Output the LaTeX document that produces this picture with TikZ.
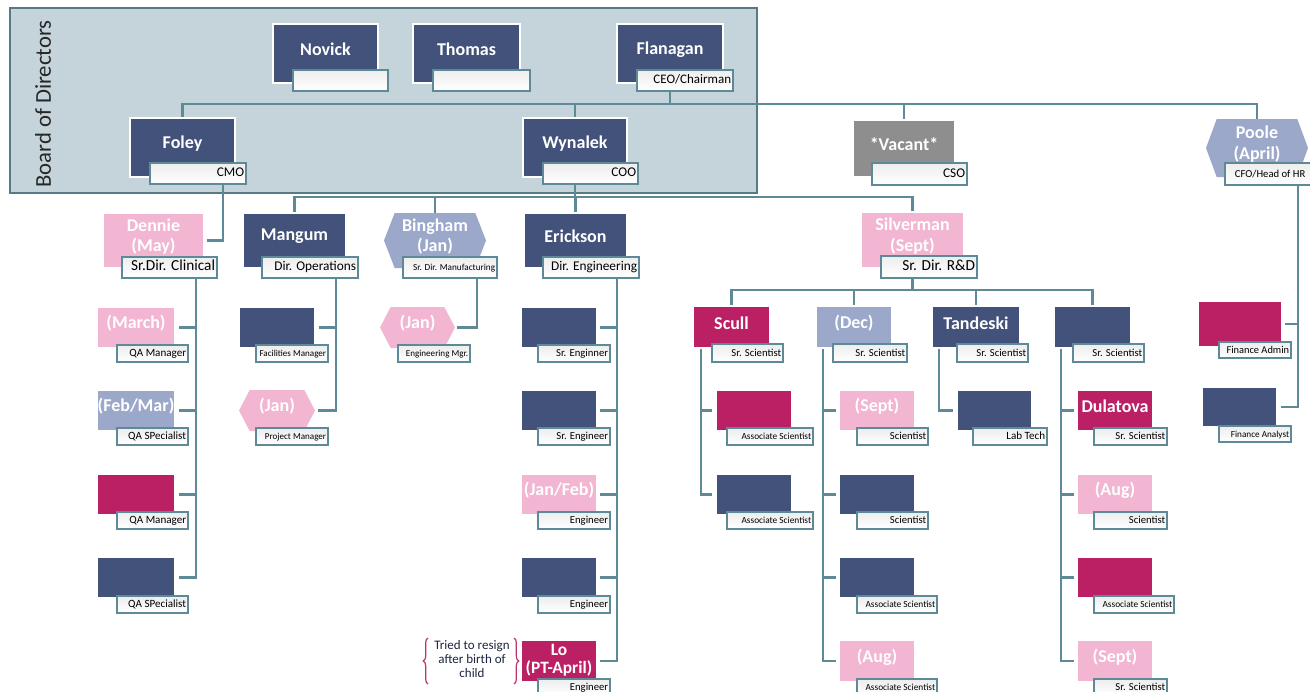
\documentclass[tikz,border=0pt]{standalone}
\usepackage{fontspec}
\setmainfont{Carlito}
\usetikzlibrary{fit,calc,decorations.pathreplacing}
\definecolor{cNavy}{RGB}{66,82,122}
\definecolor{cMag}{RGB}{188,32,100}
\definecolor{cPink}{RGB}{242,182,211}
\definecolor{cPeri}{RGB}{155,168,201}
\definecolor{cGray}{RGB}{142,142,142}
\definecolor{cLine}{RGB}{94,137,150}
\definecolor{cBoard}{RGB}{197,211,219}
\definecolor{cBoardE}{RGB}{88,122,133}
\definecolor{cNote}{RGB}{27,36,64}
\definecolor{cBrace}{RGB}{190,50,110}
\pgfdeclarelayer{bg}\pgfdeclarelayer{lines}\pgfsetlayers{bg,lines,main}
\tikzset{
  pbox/.style={draw=white, line width=1.2pt, inner sep=0pt},
  hexbox/.style={inner sep=0pt, path picture={\fill[#1] (path picture bounding box.west) -- ([xshift=8pt]path picture bounding box.north west) -- ([xshift=-8pt]path picture bounding box.north east) -- (path picture bounding box.east) -- ([xshift=-8pt]path picture bounding box.south east) -- ([xshift=8pt]path picture bounding box.south west) -- cycle;}},
  nm/.style={text=white, align=center, inner sep=0pt, font=\fontsize{13.5}{15.5}\selectfont\bfseries},
  tbox/.style={draw=cLine, line width=1.6pt, inner sep=0pt, top color=black!7, bottom color=white},
  tl/.style={anchor=mid east, inner sep=0pt, text=black},
  conn/.style={draw=cLine, line width=1.7pt},
  boardbox/.style={draw=cBoardE, fill=cBoard, line width=1.9pt, inner sep=0pt},
  bracestyle/.style={draw=cBrace, line width=0.9pt, decorate, decoration={brace, amplitude=3.5pt}},
}
\newcommand\mkbox[7]{\node[pbox, fill=#6, fit={(#2,#3) (#4,#5)}] (#1) {};
  \if\relax\detokenize{#7}\relax\else\node[nm] (#1-n) at ([yshift=3pt]#1.center) {#7};\fi}
\newcommand\mkhex[7]{\node[hexbox=#6, fit={(#2,#3) (#4,#5)}] (#1) {};
  \node[nm] (#1-n) at ([yshift=3pt]#1.center) {#7};}
\newcommand\mkttl[7]{\node[tbox, fit={(#2,#3) (#4,#5)}] (#1) {};
  \if\relax\detokenize{#7}\relax\else\node[tl, font=\fontsize{#6}{#6}\selectfont] (#1-l) at ([xshift=-2pt]#1.east) {#7};\fi}
\begin{document}
\begin{tikzpicture}[x=0.75pt,y=-0.75pt]
\useasboundingbox (0,0) rectangle (1310,692);
\clip (0,0) rectangle (1310,692);
\begin{pgfonlayer}{bg}
\node[boardbox, fit={(10,8) (757,193)}] (board) {};
\end{pgfonlayer}
\node[rotate=90, font=\fontsize{17}{17}\selectfont, text=black!85] (bodlabel) at (43,104) {Board of Directors};
% coordinates
\coordinate (b1) at (0,104);
\coordinate (b2) at (0,197);
\coordinate (b3) at (0,290);
\coordinate (vP) at (1298,0);
\coordinate (vD) at (196,0);
\coordinate (vM) at (336,0);
\coordinate (vB) at (477,0);
\coordinate (vE) at (617,0);
\coordinate (vS) at (701,0);
\coordinate (vC) at (823,0);
\coordinate (vT) at (939,0);
\coordinate (vU) at (1061,0);
% board
\mkbox{novick}{273}{24}{378}{83}{cNavy}{Novick}
\mkttl{novick-t}{293}{70}{388}{91}{9.75}{}
\mkbox{thomas}{413}{24}{520}{83}{cNavy}{Thomas}
\mkttl{thomas-t}{433}{70}{530}{91}{9.75}{}
\mkbox{flanagan}{617}{24}{723}{83}{cNavy}{Flanagan}
\mkttl{flanagan-t}{637}{70}{733}{91}{9.75}{CEO/Chairman}
\mkbox{foley}{130}{118}{235}{177}{cNavy}{Foley}
\mkttl{foley-t}{150}{163}{246}{184}{10}{CMO}
\mkbox{wynalek}{523}{118}{627}{177}{cNavy}{Wynalek}
\mkttl{wynalek-t}{543}{163}{638}{184}{10}{COO}
\mkbox{vacant}{853}{120}{955}{177}{cGray}{*Vacant*}
\mkttl{vacant-t}{872}{163}{967}{185}{10}{CSO}
\mkhex{poole}{1206}{119}{1308}{177}{cPeri}{Poole\\(April)}
\node[tbox, fit={(1225,163) (1330,185)}] (poole-t) {};
\node[anchor=mid west, inner sep=0pt, text=black, font=\fontsize{8}{8}\selectfont] (poole-t-l) at ([xshift=8pt]poole-t.west) {CFO/Head of HR};
% directors
\mkbox{dennie}{103}{213}{204}{268}{cPink}{Dennie\\(May)}
\mkttl{dennie-t}{122}{257}{217}{278}{11.5}{Sr.Dir. Clinical}
\mkbox{mangum}{243}{213}{346}{268}{cNavy}{Mangum}
\mkttl{mangum-t}{262}{257}{358}{278}{10}{Dir. Operations}
\mkhex{bingham}{384}{213}{486}{268}{cPeri}{Bingham\\(Jan)}
\mkttl{bingham-t}{403}{257}{497}{278}{6.9}{Sr. Dir. Manufacturing}
\mkbox{erickson}{524}{213}{627}{268}{cNavy}{Erickson}
\mkttl{erickson-t}{543}{257}{639}{278}{10}{Dir. Engineering}
\mkbox{silverman}{861}{212}{964}{268}{cPink}{Silverman\\(Sept)}
\mkttl{silverman-t}{881}{256}{977}{278}{11.5}{Sr. Dir. R\&D}
% Dennie column
\mkbox{d1}{97}{307}{175}{348}{cPink}{(March)}
\mkttl{d1-t}{117}{345}{188}{362}{8.3}{QA Manager}
\mkbox{d2}{97}{390}{175}{431}{cPeri}{(Feb/Mar)}
\mkttl{d2-t}{117}{428}{188}{445}{8.3}{QA SPecialist}
\mkbox{d3}{97}{474}{175}{515}{cMag}{}
\mkttl{d3-t}{117}{512}{188}{529}{8.3}{QA Manager}
\mkbox{d4}{97}{557}{175}{598}{cNavy}{}
\mkttl{d4-t}{117}{596}{188}{613}{8.3}{QA SPecialist}
% Mangum column
\mkbox{m1}{239}{307}{315}{348}{cNavy}{}
\mkttl{m1-t}{256}{345}{328}{362}{6.8}{Facilities Manager}
\mkhex{m2}{239}{390}{315}{431}{cPink}{(Jan)}
\mkttl{m2-t}{256}{428}{328}{445}{6.8}{Project Manager}
% Bingham column
\mkhex{bg1}{380}{307}{455}{348}{cPink}{(Jan)}
\mkttl{bg1-t}{398}{345}{470}{362}{6.8}{Engineering Mgr.}
% Erickson column
\mkbox{e1}{521}{307}{597}{348}{cNavy}{}
\mkttl{e1-t}{538}{345}{610}{362}{8}{Sr. Enginner}
\mkbox{e2}{521}{390}{597}{431}{cNavy}{}
\mkttl{e2-t}{538}{428}{610}{445}{8}{Sr. Engineer}
\mkbox{e3}{521}{474}{597}{515}{cPink}{(Jan/Feb)}
\mkttl{e3-t}{538}{512}{610}{529}{8}{Engineer}
\mkbox{e4}{521}{557}{597}{598}{cNavy}{}
\mkttl{e4-t}{538}{596}{610}{613}{8}{Engineer}
\node[pbox, fill=cMag, fit={(521,640) (597,682)}] (e5) {};
\node[nm, font=\fontsize{13}{14}\selectfont\bfseries] (e5-n) at ([yshift=0.5pt]e5.center) {Lo\\(PT-April)};
\mkttl{e5-t}{538}{679}{610}{696}{8}{Engineer}
% R&D level
\mkbox{scull}{693}{306}{770}{348}{cMag}{Scull}
\mkttl{scull-t}{712}{344}{783}{362}{8}{Sr. Scientist}
\mkbox{dec}{816}{306}{892}{348}{cPeri}{(Dec)}
\mkttl{dec-t}{833}{344}{907}{362}{8}{Sr. Scientist}
\mkbox{tand}{932}{306}{1020}{348}{cNavy}{Tandeski}
\mkttl{tand-t}{957}{344}{1028}{362}{8}{Sr. Scientist}
\mkbox{col4}{1054}{306}{1131}{348}{cNavy}{}
\mkttl{col4-t}{1073}{344}{1144}{362}{8}{Sr. Scientist}
% Scull children
\mkbox{s1}{716}{390}{792}{431}{cMag}{}
\mkttl{s1-t}{727}{428}{813}{445}{7}{Associate Scientist}
\mkbox{s2}{716}{474}{792}{515}{cNavy}{}
\mkttl{s2-t}{727}{512}{813}{529}{7}{Associate Scientist}
% Dec children
\mkbox{c1}{839}{390}{915}{431}{cPink}{(Sept)}
\mkttl{c1-t}{857}{428}{928}{445}{8}{Scientist}
\mkbox{c2}{839}{474}{915}{515}{cNavy}{}
\mkttl{c2-t}{857}{512}{928}{529}{8}{Scientist}
\mkbox{c3}{839}{557}{915}{598}{cNavy}{}
\mkttl{c3-t}{857}{596}{937}{613}{7}{Associate Scientist}
\mkbox{c4}{839}{640}{915}{682}{cPink}{(Aug)}
\mkttl{c4-t}{857}{679}{937}{696}{7}{Associate Scientist}
% Tandeski child
\mkbox{t1}{957}{390}{1032}{431}{cNavy}{}
\mkttl{t1-t}{973}{428}{1047}{445}{8.3}{Lab Tech}
% col4 children
\mkbox{u1}{1077}{390}{1153}{431}{cMag}{Dulatova}
\mkttl{u1-t}{1094}{428}{1167}{445}{8}{Sr. Scientist}
\mkbox{u2}{1077}{474}{1153}{515}{cPink}{(Aug)}
\mkttl{u2-t}{1094}{512}{1167}{529}{8}{Scientist}
\mkbox{u3}{1077}{557}{1153}{598}{cMag}{}
\mkttl{u3-t}{1094}{596}{1174}{613}{7}{Associate Scientist}
\mkbox{u4}{1077}{640}{1153}{682}{cPink}{(Sept)}
\mkttl{u4-t}{1094}{679}{1167}{696}{8}{Sr. Scientist}
% Finance
\mkbox{fa}{1198}{301}{1282}{347}{cMag}{}
\mkttl{fa-t}{1219}{342}{1291}{358}{7.8}{Finance Admin}
\mkbox{fn}{1202}{387}{1277}{427}{cNavy}{}
\mkttl{fn-t}{1219}{426}{1291}{442}{6.9}{Finance Analyst}
% note
\node[align=center, text=cNote, inner sep=0pt, font=\fontsize{9.75}{10.5}\selectfont] (note) at (472,659) {Tried to resign\\after birth of\\child};
\draw[bracestyle] (428,684) -- (428,638);
\draw[bracestyle] (514,638) -- (514,684);
% connectors
\begin{pgfonlayer}{lines}
\draw[conn] (flanagan.center) -- (flanagan.center |- b1);
\draw[conn] (foley.north) -- (foley.center |- b1) -- (poole.center |- b1) -- (poole.north);
\draw[conn] (wynalek.north) -- (wynalek.center |- b1);
\draw[conn] (vacant.north) -- (vacant.center |- b1);
\draw[conn] ([xshift=18.75pt]foley-t.south) |- ([xshift=2pt]dennie.east);
\draw[conn] (wynalek.center) -- (wynalek.center |- b2);
\draw[conn] (mangum.north) -- (mangum.center |- b2) -- (silverman.center |- b2) -- (silverman.north);
\draw[conn] (bingham.north) -- (bingham.center |- b2);
\draw[conn] (erickson.north) -- (erickson.center |- b2);
\draw[conn] (silverman.center) -- (silverman.center |- b3);
\draw[conn] (scull.north) -- (scull.center |- b3) -- (col4.center |- b3) -- (col4.north);
\draw[conn] (dec.north) -- (dec.center |- b3);
\draw[conn] (tand.north) -- (tand.center |- b3);
% Poole column
\draw[conn] (poole-t.south -| vP) |- ([xshift=2.25pt]fn.east);
\draw[conn] ([xshift=1.5pt]fa.east) -- (fa.east -| vP);
% Dennie column
\draw[conn] (dennie-t.south -| vD) |- ([xshift=2.25pt]d4.east);
\foreach \c in {d1,d2,d3} \draw[conn] ([xshift=2.25pt]\c.east) -- (\c.east -| vD);
% Mangum column
\draw[conn] (mangum-t.south -| vM) |- ([xshift=2.25pt]m2.east);
\draw[conn] ([xshift=2.25pt]m1.east) -- (m1.east -| vM);
% Bingham column
\draw[conn] (bingham-t.south -| vB) |- ([xshift=1.5pt]bg1.east);
% Erickson column
\draw[conn] (erickson-t.south -| vE) |- ([xshift=1.5pt]e5.east);
\foreach \c in {e1,e2,e3,e4} \draw[conn] ([xshift=1.5pt]\c.east) -- (\c.east -| vE);
% Scull column
\draw[conn] (scull.south -| vS) |- ([xshift=-2.25pt]s2.west);
\draw[conn] ([xshift=-2.25pt]s1.west) -- (s1.west -| vS);
% Dec column
\draw[conn] (dec.south -| vC) |- ([xshift=-1.5pt]c4.west);
\foreach \c in {c1,c2,c3} \draw[conn] ([xshift=-1.5pt]\c.west) -- (\c.west -| vC);
% Tandeski column
\draw[conn] (tand.south -| vT) |- ([xshift=-2.25pt]t1.west);
% col4 column
\draw[conn] (col4.south -| vU) |- ([xshift=-1.5pt]u4.west);
\foreach \c in {u1,u2,u3} \draw[conn] ([xshift=-1.5pt]\c.west) -- (\c.west -| vU);
\end{pgfonlayer}
\end{tikzpicture}
\end{document}
